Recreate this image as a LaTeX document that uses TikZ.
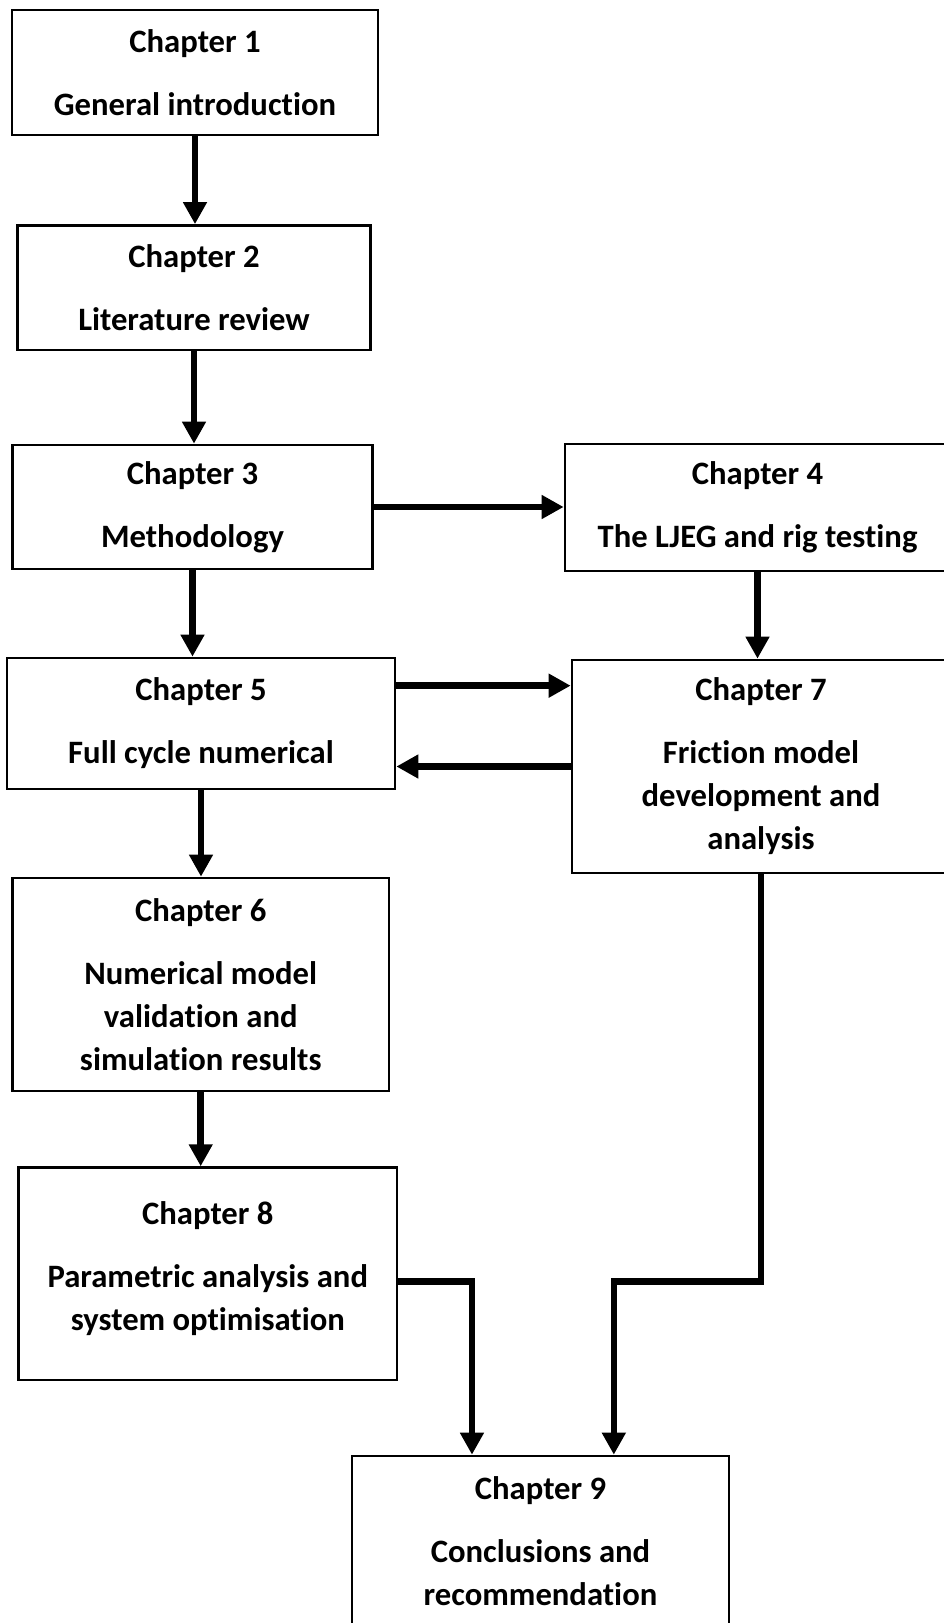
\documentclass[tikz,border=0pt]{standalone}
\usepackage{fontspec}
\setmainfont[Ligatures={NoCommon,NoRequired,NoContextual}]{Carlito}
\usetikzlibrary{arrows.meta}

\tikzset{
	chapbox/.style={draw, line width=2pt, align=center, inner sep=0pt,
		font=\bfseries\fontsize{24.5}{32.25}\selectfont},
	flow/.style={line width=5pt, -{Triangle[width=17pt,length=16.5pt]}}
}

\begin{document}
\begin{tikzpicture}[x=0.75pt, y=0.75pt]
	\useasboundingbox (0,0) rectangle (943,-1623);
	% left column
	\node[chapbox, minimum width=274.5pt, minimum height=93.75pt] (c1) at (195,-72.5) {Chapter 1\\[15pt]General introduction};
	\node[chapbox, minimum width=264.75pt, minimum height=93.4pt] (c2) at (194,-287.75) {Chapter 2\\[15pt]Literature review};
	\node[chapbox, minimum width=270pt, minimum height=93pt] (c3) at (192.5,-507) {Chapter 3\\[15pt]Methodology};
	\node[chapbox, minimum width=291pt, minimum height=98.25pt] (c5) at (201,-723.5) {Chapter 5\\[15pt]Full cycle numerical};
	\node[chapbox, minimum width=282.5pt, minimum height=159.75pt] (c6) at (200.7,-984.5) {Chapter 6\\[15pt]Numerical model\\validation and\\simulation results};
	\node[chapbox, minimum width=283.8pt, minimum height=159.3pt] (c8) at (207.8,-1273.8) {Chapter 8\\[15pt]Parametric analysis and\\system optimisation\\[-20pt]};
	% right column
	\node[chapbox, minimum width=288.75pt, minimum height=95.25pt] (c4) at (757.5,-507.5) {Chapter 4\\[15pt]The LJEG and rig testing};
	\node[chapbox, minimum width=283.5pt, minimum height=159.75pt] (c7) at (761,-766.5) {Chapter 7\\[15pt]Friction model\\development and\\analysis};
	% bottom
	\node[chapbox, minimum width=282.75pt, minimum height=127.5pt] (c9) at (540.5,-1541) {Chapter 9\\[15pt]Conclusions and\\recommendation};

	\coordinate (out5) at ([yshift=-21.75pt]c5.north east);
	\coordinate (out8) at ([yshift=-6pt]c8.east);
	\coordinate (in8) at ([xshift=-51.4pt]c9.north);
	\coordinate (in7) at ([xshift=55pt]c9.north);

	\draw[flow] (c1.south) -- (c1.south |- c2.north);
	\draw[flow] (c2.south) -- (c2.south |- c3.north);
	\draw[flow] (c3.east) -- (c3.east -| c4.west);
	\draw[flow] (c4.south) -- (c4.south |- c7.north);
	\draw[flow] (c3.south) -- (c3.south |- c5.north);
	\draw[flow] (out5) -- (out5 -| c7.west);
	\draw[flow] (c7.west) -- (c7.west -| c5.east);
	\draw[flow] (c5.south) -- (c5.south |- c6.north);
	\draw[flow] (c6.south) -- (c6.south |- c8.north);
	\draw[flow] (out8) -| (in8);
	\draw[flow] (c7.south) |- (out8 -| in7) -- (in7);
\end{tikzpicture}
\end{document}
